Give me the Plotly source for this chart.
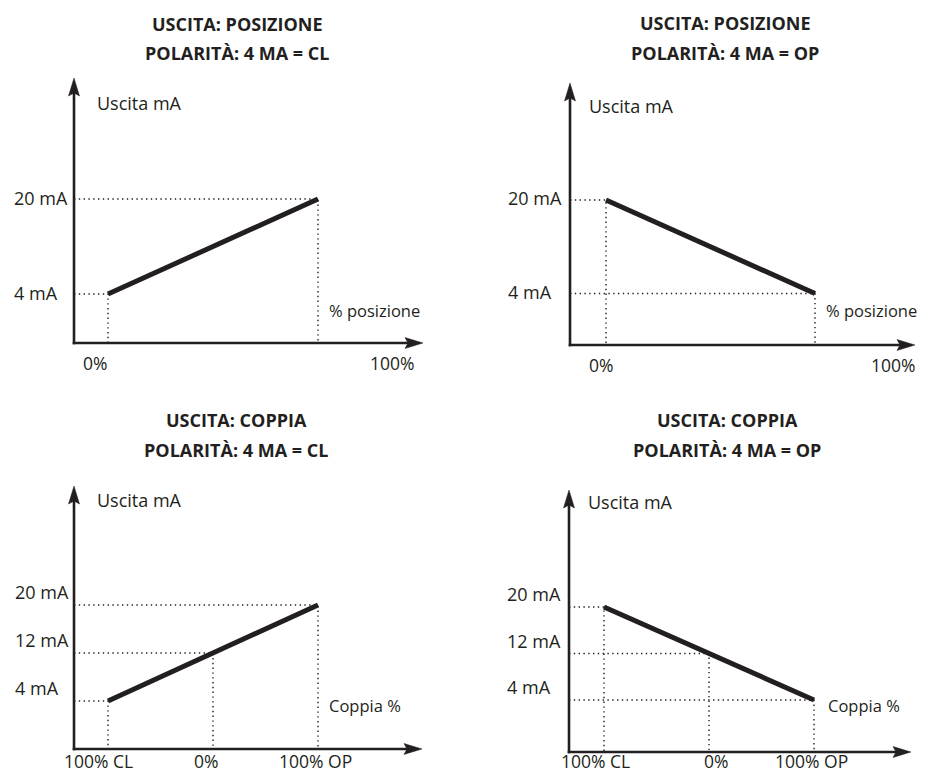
import plotly.graph_objects as go

# The page body keeps its default 8px margin, so the figure sits 8px in from
# the window's top-left corner; geometry below is in window pixels.
PAGE_OFF = 8
WIN_W, WIN_H = 926, 774
W, H = WIN_W - PAGE_OFF, WIN_H - PAGE_OFF
FONT = "Open Sans"
INK = "#231f20"

# ---------------- data ----------------
titles_line1 = ["USCITA: POSIZIONE", "USCITA: POSIZIONE", "USCITA: COPPIA", "USCITA: COPPIA"]
titles_line2 = ["POLARITÀ: 4 MA = CL", "POLARITÀ: 4 MA = OP", "POLARITÀ: 4 MA = CL", "POLARITÀ: 4 MA = OP"]
y_axis_title = "Uscita mA"
x_axis_titles = ["% posizione", "% posizione", "Coppia %", "Coppia %"]

pos_x = [0, 100]                 # % posizione
pos_cl_ma = [4, 20]
pos_op_ma = [20, 4]
pos_tick_text = ["0%", "100%"]
pos_ma_ticks = [20, 4]
pos_ma_text = ["20 mA", "4 mA"]

torque_x = [-100, 0, 100]        # 100% CL ... 0% ... 100% OP
torque_cl_ma = [4, 12, 20]
torque_op_ma = [20, 12, 4]
torque_tick_text = ["100% CL", "0%", "100% OP"]
torque_ma_ticks = [20, 12, 4]
torque_ma_text = ["20 mA", "12 mA", "4 mA"]

series = [
    (pos_x, pos_cl_ma, pos_ma_ticks, pos_ma_text, pos_tick_text),
    (pos_x, pos_op_ma, pos_ma_ticks, pos_ma_text, pos_tick_text),
    (torque_x, torque_cl_ma, torque_ma_ticks, torque_ma_text, torque_tick_text),
    (torque_x, torque_op_ma, torque_ma_ticks, torque_ma_text, torque_tick_text),
]

# ---------------- layout geometry (window pixels) ----------------
panels = [
    dict(ox=74, oy=343, ytip=78, xtip=423,
         xmap=((0, 108), (100, 318)), ymap=((4, 294), (20, 199)),
         tcx=237, t1y=24, t2y=53, utx=95, uty=103, ylx=12, ylshift=1,
         xtx=327, xty=310, xtick_px=[95, 392], xtick_y=363),
    dict(ox=570, oy=345, ytip=83, xtip=915,
         xmap=((0, 606), (100, 815)), ymap=((4, 293.5), (20, 200)),
         tcx=725, t1y=23, t2y=53, utx=587, uty=106, ylx=506, ylshift=2,
         xtx=824, xty=310, xtick_px=[601, 893], xtick_y=365),
    dict(ox=74, oy=749, ytip=486, xtip=422,
         xmap=((-100, 108), (100, 318)), ymap=((4, 701), (20, 605)),
         tcx=236, t1y=420, t2y=450, utx=95, uty=500, ylx=13, ylshift=13,
         xtx=327, xty=705, xtick_px=[98, 206, 315], xtick_y=761),
    dict(ox=569, oy=752, ytip=490, xtip=911,
         xmap=((-100, 604), (100, 814)), ymap=((4, 700), (20, 607)),
         tcx=727, t1y=420, t2y=450, utx=586, uty=502, ylx=505, ylshift=13,
         xtx=826, xty=705, xtick_px=[595, 716, 811], xtick_y=761),
]

ARROW_LEN, ARROW_HALF, NOTCH = 18, 5.5, 3


def px(x):
    return (x - PAGE_OFF) / W


def py(y):
    return 1 - (y - PAGE_OFF) / H


def axis_range(lo_px, hi_px, mapping):
    (va, pa), (vb, pb) = mapping
    s = (pb - pa) / (vb - va)
    return [va + (lo_px - pa) / s, va + (hi_px - pa) / s]


fig = go.Figure()
shapes, annotations = [], []
layout_axes = {}

for i, (p, (xs, ys, yt, ytt, xtt)) in enumerate(zip(panels, series)):
    n = "" if i == 0 else str(i + 1)
    xa, ya = "x" + n, "y" + n
    xr = axis_range(p["ox"], p["xtip"], p["xmap"])
    yr = axis_range(p["oy"], p["ytip"], p["ymap"])
    common = dict(visible=False, showgrid=False, zeroline=False, fixedrange=True)
    layout_axes["xaxis" + n] = dict(domain=[px(p["ox"]), px(p["xtip"])], range=xr,
                                    anchor=ya, **common)
    layout_axes["yaxis" + n] = dict(domain=[py(p["oy"]), py(p["ytip"])], range=yr,
                                    anchor=xa, **common)

    # dotted guides
    for xv, yv in zip(xs, ys):
        fig.add_trace(go.Scatter(x=[xr[0], xv, xv], y=[yv, yv, yr[0]], mode="lines",
                                 line=dict(color=INK, width=1.4, dash="1.4px,3.4px"),
                                 xaxis=xa, yaxis=ya, hoverinfo="skip", showlegend=False))
    # main characteristic line
    fig.add_trace(go.Scatter(x=[xs[0], xs[-1]], y=[ys[0], ys[-1]], mode="lines",
                             line=dict(color=INK, width=5), xaxis=xa, yaxis=ya,
                             showlegend=False))

    # axes with arrowheads
    ox, oy, yt_px, xt_px = p["ox"], p["oy"], p["ytip"], p["xtip"]
    shapes.append(dict(type="line", xref="paper", yref="paper",
                       x0=px(ox), y0=py(oy + 1.3), x1=px(ox), y1=py(yt_px + ARROW_LEN - 4),
                       line=dict(color=INK, width=2.6)))
    shapes.append(dict(type="line", xref="paper", yref="paper",
                       x0=px(ox - 1.3), y0=py(oy), x1=px(xt_px - ARROW_LEN + 4), y1=py(oy),
                       line=dict(color=INK, width=2.6)))
    up = [(ox, yt_px), (ox + ARROW_HALF, yt_px + ARROW_LEN),
          (ox, yt_px + ARROW_LEN - NOTCH), (ox - ARROW_HALF, yt_px + ARROW_LEN)]
    rt = [(xt_px, oy), (xt_px - ARROW_LEN, oy - ARROW_HALF),
          (xt_px - ARROW_LEN + NOTCH, oy), (xt_px - ARROW_LEN, oy + ARROW_HALF)]
    for pts in (up, rt):
        path = "M" + " L".join(f"{px(a):.5f},{py(b):.5f}" for a, b in pts) + " Z"
        shapes.append(dict(type="path", xref="paper", yref="paper", path=path,
                           fillcolor=INK, line=dict(color=INK, width=0.5)))

    # titles
    for txt, ty in ((titles_line1[i], p["t1y"]), (titles_line2[i], p["t2y"])):
        annotations.append(dict(text=f"<b>{txt}</b>", x=px(p["tcx"]), y=py(ty),
                                xref="paper", yref="paper", xanchor="center", yanchor="middle",
                                showarrow=False, font=dict(family=FONT, size=18, color=INK)))
    # axis titles
    annotations.append(dict(text=y_axis_title, x=px(p["utx"]), y=py(p["uty"]),
                            xref="paper", yref="paper", xanchor="left", yanchor="middle",
                            showarrow=False, font=dict(family=FONT, size=18, color=INK)))
    annotations.append(dict(text=x_axis_titles[i], x=px(p["xtx"]), y=py(p["xty"]),
                            xref="paper", yref="paper", xanchor="left", yanchor="middle",
                            showarrow=False, font=dict(family=FONT, size=16.5, color=INK)))
    # y labels (mA)
    for v, t in zip(yt, ytt):
        annotations.append(dict(text=t, x=px(p["ylx"]), y=v, xref="paper", yref=ya,
                                xanchor="left", yanchor="middle", yshift=p["ylshift"],
                                showarrow=False, font=dict(family=FONT, size=18, color=INK)))
    # x labels
    for xp_, t in zip(p["xtick_px"], xtt):
        annotations.append(dict(text=t, x=px(xp_), y=py(p["xtick_y"]), xref="paper",
                                yref="paper", xanchor="center", yanchor="middle",
                                showarrow=False, font=dict(family=FONT, size=17.5, color=INK)))

fig.update_layout(width=W, height=H, margin=dict(l=0, r=0, t=0, b=0),
                  paper_bgcolor="white", plot_bgcolor="white", showlegend=False,
                  shapes=shapes, annotations=annotations, **layout_axes)

fig.write_html("out.html")
